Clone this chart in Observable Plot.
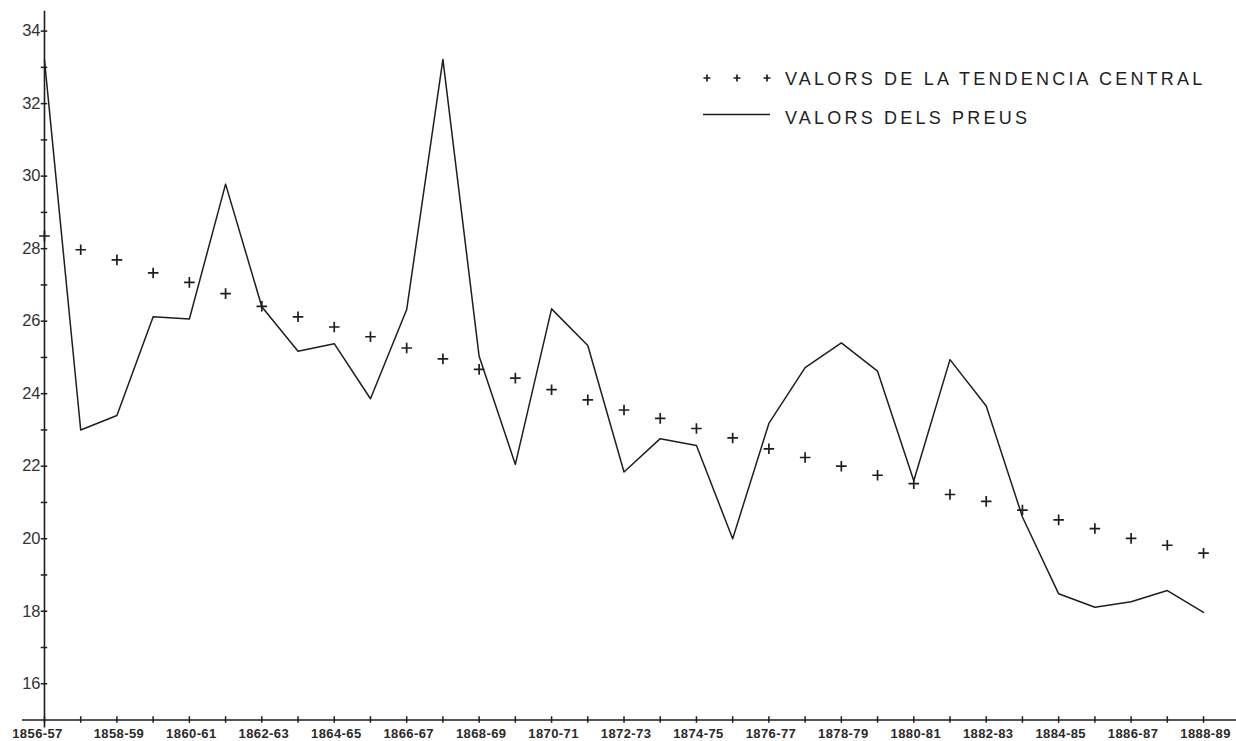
<!DOCTYPE html>
<html><head><meta charset="utf-8">
<script src="https://cdn.jsdelivr.net/npm/d3@7"></script>
<script src="https://cdn.jsdelivr.net/npm/@observablehq/plot@0.6"></script>
<style>
html,body{margin:0;padding:0;background:#fff;}
#wrap{position:relative;width:1236px;height:741px;}
#wrap svg{display:block;}
#legend{position:absolute;left:0;top:0;pointer-events:none;}
</style></head><body><div id="wrap"></div>
<script>
const years = ["1856-57","1857-58","1858-59","1859-60","1860-61","1861-62","1862-63","1863-64","1864-65","1865-66","1866-67","1867-68","1868-69","1869-70","1870-71","1871-72","1872-73","1873-74","1874-75","1875-76","1876-77","1877-78","1878-79","1879-80","1880-81","1881-82","1882-83","1883-84","1884-85","1885-86","1886-87","1887-88","1888-89"];
const preus = [33.2,23.0,23.4,26.12,26.06,29.78,26.4,25.17,25.38,23.86,26.32,33.22,25.03,22.05,26.34,25.33,21.84,22.76,22.57,20.0,23.18,24.72,25.4,24.62,21.6,24.94,23.66,20.6,18.48,18.11,18.26,18.57,17.97];
const tendencia = [28.35,27.97,27.69,27.33,27.07,26.76,26.41,26.12,25.84,25.57,25.26,24.96,24.67,24.43,24.11,23.83,23.55,23.32,23.04,22.78,22.48,22.24,22.0,21.75,21.52,21.22,21.03,20.79,20.52,20.28,20.01,19.82,19.6];
const yTickLabels = [16,18,20,22,24,26,28,30,32,34];
const yMinorTicks = [16,17,18,19,20,21,22,23,24,25,26,27,28,29,30,31,32,33,34];
const xTickLabels = ["1856-57","1858-59","1860-61","1862-63","1864-65","1866-67","1868-69","1870-71","1872-73","1874-75","1876-77","1878-79","1880-81","1882-83","1884-85","1886-87","1888-89"];
const legendLabels = ["VALORS DE LA TENDENCIA CENTRAL","VALORS DELS PREUS"];

const data = years.map((y, i) => ({i, year: y, preus: preus[i], tend: tendencia[i]}));
const idx = d => years.indexOf(d);
const ink = "#1e1e1e";

const chart = Plot.plot({
  width: 1236, height: 741,
  marginLeft: 22, marginRight: 0, marginTop: 12.5, marginBottom: 21.5,
  style: {fontFamily: "Liberation Sans, Arial, sans-serif", color: ink, background: "#fff"},
  x: {type: "linear", domain: [-0.607, 32.91], axis: null},
  y: {domain: [15, 34.5], axis: null},
  marks: [
    Plot.ruleY([15], {stroke: ink, strokeWidth: 1.6}),
    Plot.ruleX([0], {y1: 14.78, y2: 34.55, stroke: ink, strokeWidth: 1.6}),
    Plot.ruleY(yMinorTicks, {y: d => d, x1: -0.09, x2: 0.09, stroke: ink, strokeWidth: 1.5}),
    Plot.ruleX(data, {x: "i", y1: 14.91, y2: 15.09, stroke: ink, strokeWidth: 1.5}),
    Plot.line(data, {x: "i", y: "preus", stroke: ink, strokeWidth: 1.5}),
    Plot.dot(data, {x: "i", y: "tend", symbol: "plus", r: 3.5, stroke: ink, strokeWidth: 1.7}),
    Plot.text(yTickLabels, {x: 0, y: d => d, text: d => String(d), textAnchor: "end", dx: -4, fontSize: 16.5, fill: "#333"}),
    Plot.text(xTickLabels.slice(0, 1), {x: d => idx(d), y: 15, text: d => d, dx: -7, dy: 13.5, fontSize: 13, fontWeight: "bold", fill: "#2a2a2a"}),
    Plot.text(xTickLabels.slice(1), {x: d => idx(d), y: 15, text: d => d, dx: 2, dy: 13.5, fontSize: 13, fontWeight: "bold", fill: "#2a2a2a"})
  ]
});
chart.querySelectorAll("text").forEach(t => { if (/^\d{4}-/.test(t.textContent)) t.style.letterSpacing = "0.4px"; });
document.getElementById("wrap").appendChild(chart);

// legend overlay
const ns = "http://www.w3.org/2000/svg";
const lg = document.createElementNS(ns, "svg");
lg.setAttribute("id", "legend");
lg.setAttribute("width", 1236); lg.setAttribute("height", 741);
let html = "";
[707, 737, 767].forEach(cx => {
  html += `<path d="M${cx-3.5},78H${cx+3.5}M${cx},74.5V81.5" stroke="${ink}" stroke-width="1.7"/>`;
});
html += `<line x1="703" x2="770" y1="114.5" y2="114.5" stroke="${ink}" stroke-width="1.5"/>`;
html += `<text x="785" y="84.5" font-family="Liberation Sans, Arial, sans-serif" font-size="18" letter-spacing="3.2" fill="${ink}">${legendLabels[0]}</text>`;
html += `<text x="785" y="124" font-family="Liberation Sans, Arial, sans-serif" font-size="18" letter-spacing="3.2" fill="${ink}">${legendLabels[1]}</text>`;
lg.innerHTML = html;
document.getElementById("wrap").appendChild(lg);
</script></body></html>
